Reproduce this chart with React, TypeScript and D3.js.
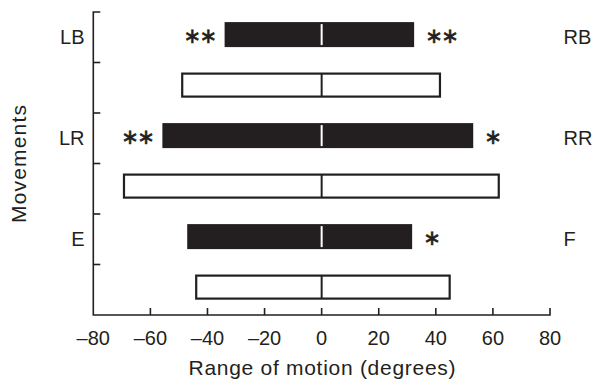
import React from "react";
import * as d3 from "d3";

// Range of motion per movement pair; negative = left/extension side, positive = right/flexion side
const rows = ["LB-pt", "LB-ctl", "LR-pt", "LR-ctl", "E-pt", "E-ctl"];
const leftValues = [-34, -49.2, -55.8, -69.6, -47.1, -44.3];
const rightValues = [32.4, 41.8, 53.1, 62.4, 31.7, 45.2];
const filled = [true, false, true, false, true, false];
const leftStars = ["**", "", "**", "", "", ""];
const rightStars = ["**", "", "*", "", "*", ""];
const leftLabels = ["LB", "", "LR", "", "E", ""];
const rightLabels = ["RB", "", "RR", "", "F", ""];
const xTicks = [-80, -60, -40, -20, 0, 20, 40, 60, 80];

const W = 592;
const H = 383;
const ink = "#231f20";
const font = "'Liberation Sans', Arial, Helvetica, sans-serif";

export default function App() {
  const x = d3.scaleLinear().domain([-80, 80]).range([93.3, 550]);
  const y = d3.scaleBand<string>().domain(rows).range([12, 315]).paddingInner(0).paddingOuter(0);
  const bw = y.bandwidth();
  const barTop = (r: string) => (y(r) as number) + bw * 0.2;
  const barH = bw * 0.495;
  const axisY = 315;
  const axisX = x(-80);
  const tickLen = 7;
  const fmt = (v: number) => (v < 0 ? "\u2013" + Math.abs(v) : String(v));
  const yTickPos = rows.map((r) => y(r) as number);

  const star = (s: string, xPos: number, top: number, anchor: "start" | "end") => (
    <text
      x={xPos}
      y={top + barH / 2 + 8}
      textAnchor={anchor}
      fontSize={21}
      fill={ink}
      stroke={ink}
      strokeWidth={0.6}
      fontFamily="'DejaVu Sans', sans-serif"
      letterSpacing={-1.5}
    >
      {s.replace(/\*/g, "\u2217")}
    </text>
  );

  return (
    <svg
      width={W}
      height={H}
      style={{ position: "absolute", left: 0, top: 0, background: "#fff" }}
      fontFamily={font}
    >
      {/* bars */}
      {rows.map((r, i) => {
        const top = barTop(r);
        const xl = x(leftValues[i]);
        const xr = x(rightValues[i]);
        return (
          <g key={r}>
            {filled[i] ? (
              <rect x={xl} y={top} width={xr - xl} height={barH} fill={ink} />
            ) : (
              <rect
                x={xl + 1}
                y={top + 1}
                width={xr - xl - 2}
                height={barH - 2}
                fill="#fff"
                stroke={ink}
                strokeWidth={2.2}
              />
            )}
            <line
              x1={x(0)}
              x2={x(0)}
              y1={top + (filled[i] ? 2 : 1)}
              y2={top + barH - (filled[i] ? 2 : 1)}
              stroke={filled[i] ? "#fff" : ink}
              strokeWidth={2}
            />
            {leftStars[i] && star(leftStars[i], xl - 9, top, "end")}
            {rightStars[i] && star(rightStars[i], xr + 11, top, "start")}
            {leftLabels[i] && (
              <text
                x={84.5}
                y={(y(r) as number) + bw / 2 + 7}
                textAnchor="end"
                fontSize={20}
                fill={ink}
              >
                {leftLabels[i]}
              </text>
            )}
            {rightLabels[i] && (
              <text
                x={563.5}
                y={(y(r) as number) + bw / 2 + 7}
                textAnchor="start"
                fontSize={20}
                fill={ink}
              >
                {rightLabels[i]}
              </text>
            )}
          </g>
        );
      })}

      {/* axes */}
      <g stroke={ink} strokeWidth={1.6} fill="none">
        <path d={`M${axisX + tickLen},12 H${axisX} V${axisY} H${x(80)} V${axisY - tickLen}`} />
        {yTickPos.slice(1).map((p, i) => (
          <line key={i} x1={axisX} x2={axisX + tickLen} y1={p} y2={p} />
        ))}
        {xTicks.slice(1, -1).map((t) => (
          <line key={t} x1={x(t)} x2={x(t)} y1={axisY} y2={axisY - tickLen} />
        ))}
      </g>
      {xTicks.map((t) => (
        <text key={t} x={x(t)} y={345} textAnchor="middle" fontSize={20} fill={ink}>
          {fmt(t)}
        </text>
      ))}
      <text
        x={188.5}
        y={375}
        textAnchor="start"
        fontSize={21}
        fill={ink}
        textLength={267}
        lengthAdjust="spacing"
      >
        Range of motion (degrees)
      </text>
      <text
        transform={`translate(26,223) rotate(-90)`}
        textAnchor="start"
        fontSize={21}
        fill={ink}
        textLength={118}
        lengthAdjust="spacing"
      >
        Movements
      </text>
    </svg>
  );
}
